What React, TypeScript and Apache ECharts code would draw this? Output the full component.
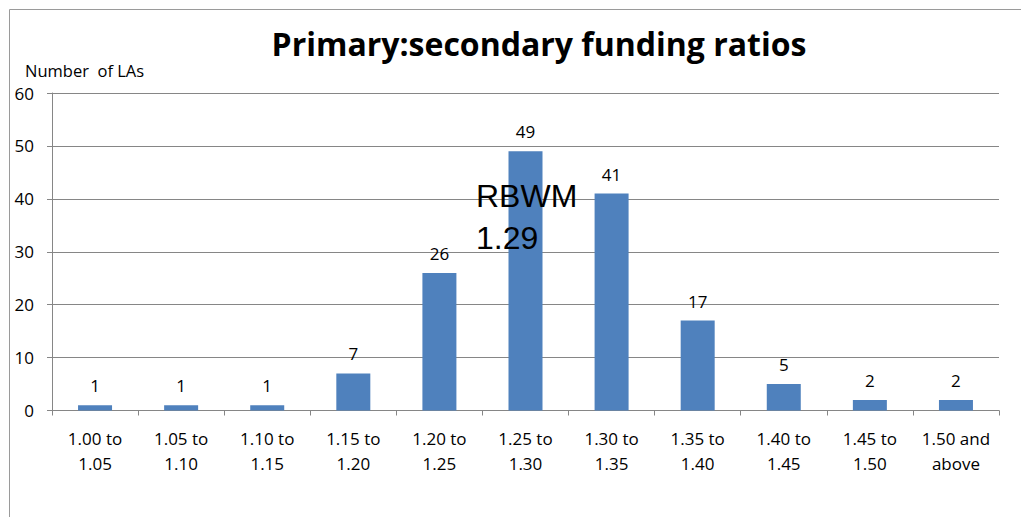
import React, { useEffect, useRef } from "react";
import * as echarts from "echarts";

const categories = [
  "1.00 to\n1.05",
  "1.05 to\n1.10",
  "1.10 to\n1.15",
  "1.15 to\n1.20",
  "1.20 to\n1.25",
  "1.25 to\n1.30",
  "1.30 to\n1.35",
  "1.35 to\n1.40",
  "1.40 to\n1.45",
  "1.45 to\n1.50",
  "1.50 and\nabove",
];
const counts = [1, 1, 1, 7, 26, 49, 41, 17, 5, 2, 2];
const titleText = "Primary:secondary funding ratios";
const yAxisName = "Number  of LAs";
const annotationLines = ["RBWM", "1.29"];

export default function App() {
  const ref = useRef<HTMLDivElement>(null);
  useEffect(() => {
    if (!ref.current) return;
    const chart = echarts.init(ref.current, null, { renderer: "svg" });
    const font = "'Open Sans', Lato, sans-serif";
    chart.setOption({
      animation: false,
      backgroundColor: "#ffffff",
      title: {
        text: titleText,
        left: 534,
        top: 22,
        textAlign: "center",
        textStyle: { fontFamily: font, fontWeight: "bold", fontSize: 32, color: "#000" },
      },
      grid: { left: 52, right: 22, top: 93, bottom: 106.5, containLabel: false },
      xAxis: {
        type: "category",
        data: categories,
        axisLine: { lineStyle: { color: "#868686" } },
        axisTick: { show: true, length: 5, alignWithLabel: false, lineStyle: { color: "#868686" } },
        axisLabel: { fontFamily: font, fontSize: 17, color: "#000", lineHeight: 25, margin: 15, interval: 0 },
      },
      yAxis: {
        type: "value",
        min: 0,
        max: 60,
        interval: 10,
        name: yAxisName,
        nameLocation: "end",
        nameGap: 14,
        nameTextStyle: { fontFamily: font, fontSize: 16.5, color: "#000", align: "left", padding: [0, 0, 0, -27] },
        axisLine: { show: true, lineStyle: { color: "#868686" } },
        axisTick: { show: true, length: 5, lineStyle: { color: "#868686" } },
        splitLine: { lineStyle: { color: "#868686", width: 1 } },
        axisLabel: { fontFamily: font, fontSize: 17, color: "#000", margin: 18 },
      },
      series: [
        {
          type: "bar",
          data: counts,
          barWidth: 34,
          itemStyle: { color: "#4F81BD" },
          label: {
            show: true,
            position: "top",
            distance: 11,
            fontFamily: font,
            fontSize: 17,
            color: "#000",
          },
        },
      ],
      graphic: [
        {
          type: "rect",
          z: 0,
          shape: { x: 9.5, y: 9.5, width: 1030, height: 530 },
          style: { fill: "none", stroke: "#9a9a9a", lineWidth: 1 },
          silent: true,
        },
        {
          type: "text",
          z: 100,
          x: 476,
          y: 180,
          style: {
            text: annotationLines[0],
            font: "32px 'Liberation Sans', Arial, sans-serif",
            fill: "#000",
          },
        },
        {
          type: "text",
          z: 100,
          x: 476,
          y: 222,
          style: {
            text: annotationLines[1],
            font: "32px 'Liberation Sans', Arial, sans-serif",
            fill: "#000",
          },
        },
      ],
    });
    return () => chart.dispose();
  }, []);
  return (
    <div
      ref={ref}
      style={{ position: "fixed", left: 0, top: 0, width: 1021, height: 517 }}
    />
  );
}
